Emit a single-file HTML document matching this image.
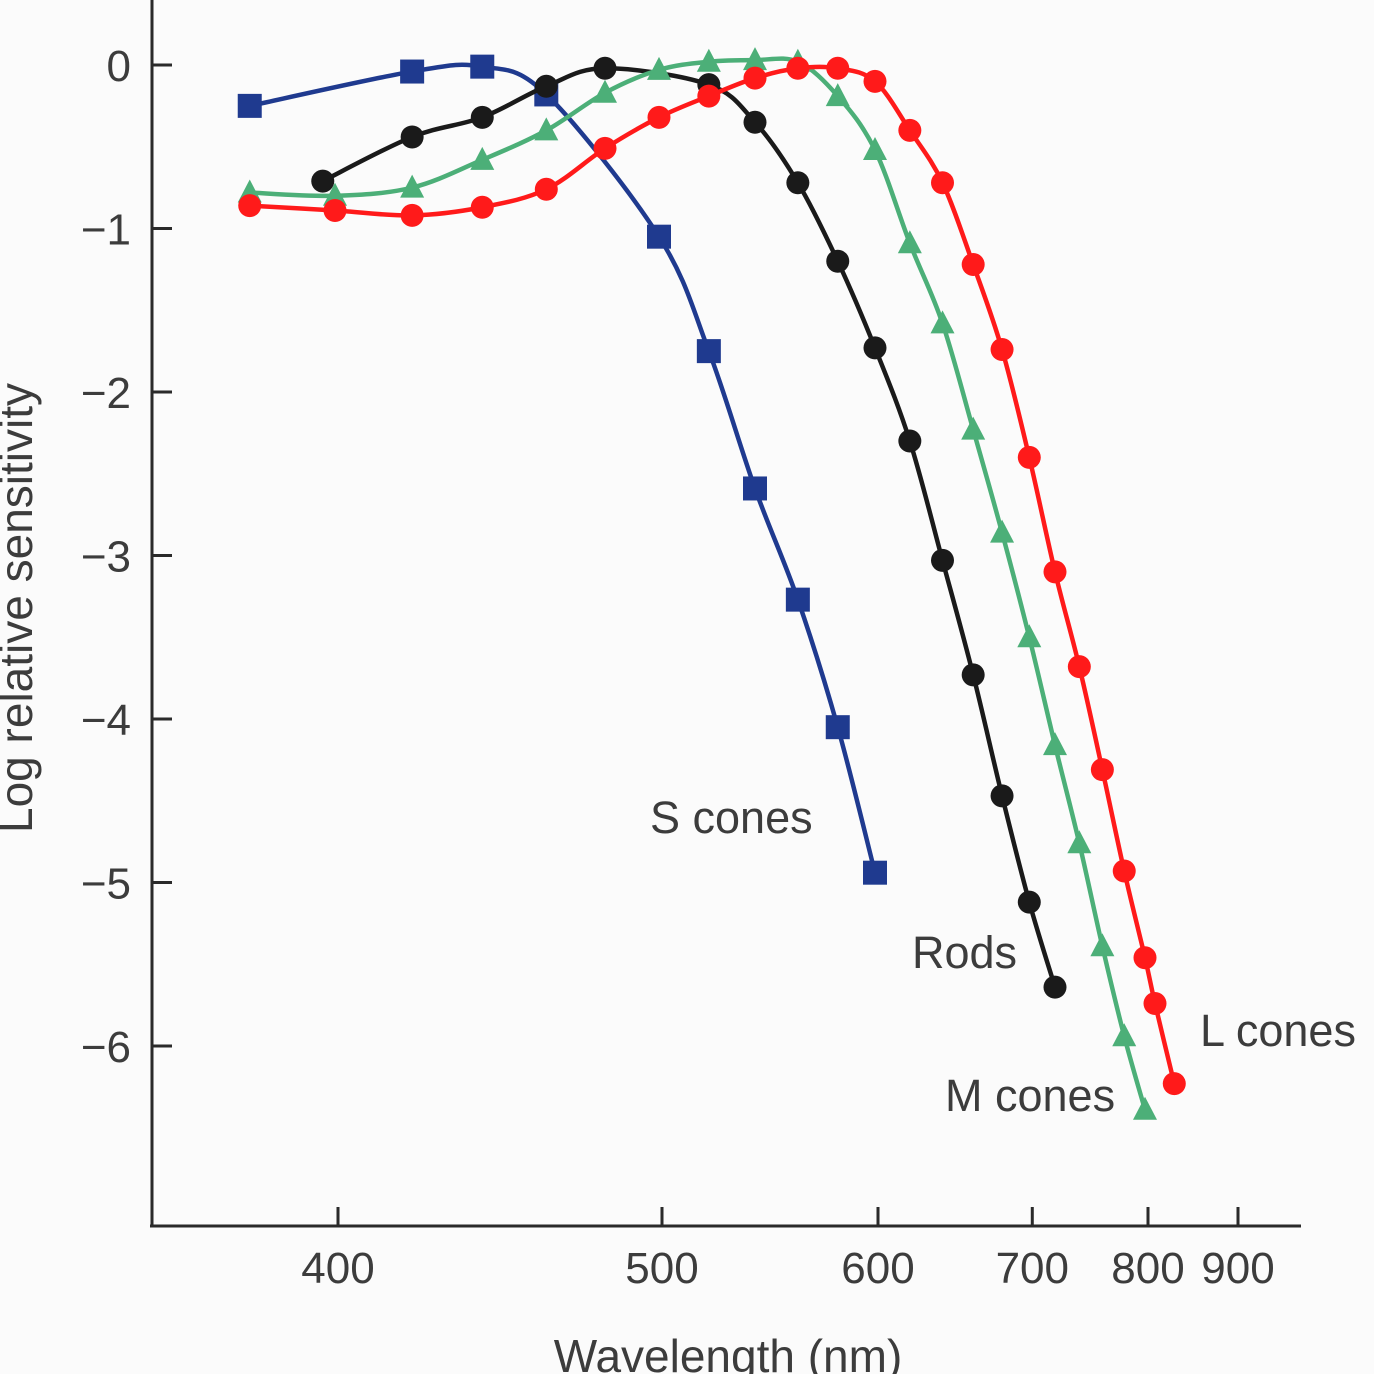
<!DOCTYPE html>
<html><head><meta charset="utf-8"><style>
html,body{margin:0;padding:0;background:#fbfbfb;}
svg{display:block;font-family:"Liberation Sans",sans-serif;}
</style></head><body>
<svg id="chart" width="1374" height="1374" viewBox="0 0 1374 1374" xmlns="http://www.w3.org/2000/svg">
<rect width="1374" height="1374" fill="#fbfbfb"/>
<g id="axes"></g>
<g id="series"></g>
<g id="labels"></g>
</svg>
<script>
const xTicks = [400, 500, 600, 700, 800, 900];
const yTicks = [0, -1, -2, -3, -4, -5, -6];
const yTickLabels = ["0", "\u22121", "\u22122", "\u22123", "\u22124", "\u22125", "\u22126"];

const sWl = [380, 420, 440, 460, 500, 520, 540, 560, 580, 600];
const sVal = [-0.25, -0.04, -0.01, -0.18, -1.05, -1.75, -2.59, -3.27, -4.05, -4.94];

const rodWl = [397, 420, 440, 460, 480, 520, 540, 560, 580, 600, 620, 640, 660, 680, 700, 720];
const rodVal = [-0.71, -0.44, -0.32, -0.13, -0.02, -0.12, -0.35, -0.72, -1.2, -1.73, -2.3, -3.03, -3.73, -4.47, -5.12, -5.64];

const mWl = [380, 400, 420, 440, 460, 480, 500, 520, 540, 560, 580, 600, 620, 640, 660, 680, 700, 720, 740, 760, 780, 800];
const mVal = [-0.78, -0.8, -0.75, -0.58, -0.4, -0.17, -0.03, 0.02, 0.03, 0.02, -0.19, -0.52, -1.09, -1.58, -2.23, -2.86, -3.5, -4.16, -4.76, -5.39, -5.94, -6.39];

const lWl = [380, 400, 420, 440, 460, 480, 500, 520, 540, 560, 580, 600, 620, 640, 660, 680, 700, 720, 740, 760, 780, 800, 810, 830];
const lVal = [-0.86, -0.89, -0.92, -0.87, -0.76, -0.51, -0.32, -0.19, -0.08, -0.02, -0.02, -0.1, -0.4, -0.72, -1.22, -1.74, -2.4, -3.1, -3.68, -4.31, -4.93, -5.46, -5.74, -6.23];

const NS = "http://www.w3.org/2000/svg";
function xS(wl){ return 335 + 648000 * (1/400 - 1/wl); }
function yS(v){ return 65 - v * 163.5; }
function mk(tag, attrs, parent){
  const e = document.createElementNS(NS, tag);
  for (const k in attrs) e.setAttribute(k, attrs[k]);
  parent.appendChild(e);
  return e;
}
const axes = document.getElementById('axes');
const series = document.getElementById('series');
const labels = document.getElementById('labels');
const TXT = '#3c3c3c';

const yAxis = mk('line', {x1:152, y1:0, x2:152, y2:1227, stroke:'#2a2a2a', 'stroke-width':3}, axes);


const xAxis = mk('line', {x1:150, y1:1226, x2:1301, y2:1226, stroke:'#2a2a2a', 'stroke-width':3}, axes);



yTicks.forEach((v, i) => {
  const y = yS(v);
  const t = mk('line', {x1:152, y1:y, x2:172, y2:y, stroke:'#2a2a2a', 'stroke-width':3}, axes);
  
  
  const tx = mk('text', {x:131, y:y+16, 'text-anchor':'end', 'font-size':44, fill:TXT}, axes);
  tx.textContent = yTickLabels[i];
  
  
});
xTicks.forEach(w => {
  const x = xS(w) + 3;
  const t = mk('line', {x1:x, y1:1207, x2:x, y2:1226, stroke:'#2a2a2a', 'stroke-width':3}, axes);
  
  
  const tx = mk('text', {x:x, y:1283, 'text-anchor':'middle', 'font-size':44, fill:TXT}, axes);
  tx.textContent = String(w);
  
  
});
const yt = mk('text', {x:0, y:0, transform:'translate(32,608) rotate(-90)', 'text-anchor':'middle', 'font-size':46, fill:TXT}, labels);
yt.textContent = 'Log relative sensitivity';


const xt = mk('text', {x:728, y:1372, 'text-anchor':'middle', 'font-size':46, fill:TXT}, labels);
xt.textContent = 'Wavelength (nm)';



function smoothPath(pts){
  let d = 'M' + pts[0][0] + ',' + pts[0][1];
  for (let i = 0; i < pts.length - 1; i++){
    const p0 = pts[i-1] || pts[i], p1 = pts[i], p2 = pts[i+1], p3 = pts[i+2] || p2;
    const c1 = [p1[0] + (p2[0]-p0[0])/6, p1[1] + (p2[1]-p0[1])/6];
    const c2 = [p2[0] - (p3[0]-p1[0])/6, p2[1] - (p3[1]-p1[1])/6];
    d += ' C' + c1[0] + ',' + c1[1] + ' ' + c2[0] + ',' + c2[1] + ' ' + p2[0] + ',' + p2[1];
  }
  return d;
}
function drawSeries(name, wl, val, color, shape){
  const g = mk('g', {}, series);
  
  
  const pts = wl.map((w, i) => [xS(w), yS(val[i])]);
  const p = mk('path', {d:smoothPath(pts), fill:'none', stroke:color, 'stroke-width':4.5}, g);
  
  
  pts.forEach(pt => {
    let m;
    if (shape === 'square') m = mk('rect', {x:pt[0]-12, y:pt[1]-12, width:24, height:24, fill:color}, g);
    else if (shape === 'tri') m = mk('polygon', {points:(pt[0])+','+(pt[1]-13)+' '+(pt[0]-12)+','+(pt[1]+10)+' '+(pt[0]+12)+','+(pt[1]+10), fill:color}, g);
    else m = mk('circle', {cx:pt[0], cy:pt[1], r:11.5, fill:color}, g);
    
    
  });
}
drawSeries('s-cones', sWl, sVal, '#1f3a8f', 'square');
drawSeries('rods', rodWl, rodVal, '#1a1a1a', 'circle');
drawSeries('m-cones', mWl, mVal, '#4caf78', 'tri');
drawSeries('l-cones', lWl, lVal, '#ff1a1a', 'circle');

[['S cones', 650, 833, 's-cones-label'], ['Rods', 912, 968, 'rods-label'], ['L cones', 1200, 1046, 'l-cones-label'], ['M cones', 945, 1111, 'm-cones-label']].forEach(a => {
  const t = mk('text', {x:a[1], y:a[2], 'font-size':45, fill:TXT}, labels);
  t.textContent = a[0];
  
  
});
</script>
</body></html>
